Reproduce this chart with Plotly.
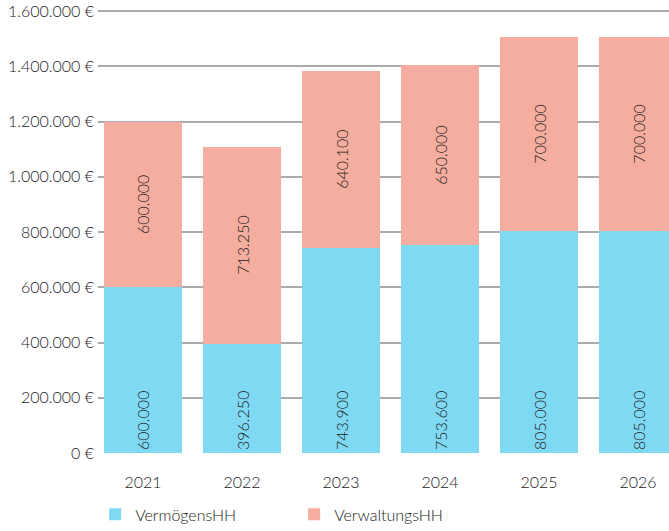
import plotly.graph_objects as go

years = ["2021", "2022", "2023", "2024", "2025", "2026"]
vermoegens = [600000, 396250, 743900, 753600, 805000, 805000]
verwaltungs = [600000, 713250, 640100, 650000, 700000, 700000]
y_ticks = [0, 200000, 400000, 600000, 800000, 1000000, 1200000, 1400000, 1600000]
y_tick_labels = ["0 €", "200.000 €", "400.000 €", "600.000 €", "800.000 €",
                 "1.000.000 €", "1.200.000 €", "1.400.000 €", "1.600.000 €"]

FONT = "Lato"
TXT = "#1a1a1a"
f16 = dict(family=FONT, size=16, color=TXT, weight=300)

fig = go.Figure()
fig.add_trace(go.Bar(
    x=years, y=vermoegens, name="VermögensHH",
    marker=dict(color="#80d9f3", line=dict(width=0)),
    texttemplate="%{y:,.0f}", textposition="inside", textangle=-90,
    insidetextanchor="start",
    insidetextfont=f16,
))
fig.add_trace(go.Bar(
    x=years, y=verwaltungs, name="VerwaltungsHH",
    marker=dict(color="#f5ad9f", line=dict(width=0)),
    texttemplate="%{y:,.0f}", textposition="inside", textangle=-90,
    insidetextanchor="middle",
    insidetextfont=f16,
))

fig.update_layout(
    width=669, height=531,
    barmode="stack", bargap=0.212,
    separators=",.",
    plot_bgcolor="white", paper_bgcolor="white",
    margin=dict(l=98, r=0, t=9, b=78, autoexpand=False),
    font=f16,
    legend=dict(
        orientation="h", x=-0.005, xanchor="left", y=-0.100, yanchor="top",
        entrywidth=154, entrywidthmode="pixels",
        font=f16,
        traceorder="normal",
    ),
    xaxis=dict(
        range=[-0.4545, 5.313], showgrid=False, zeroline=False, showline=False,
        ticks="", ticklabelstandoff=18, automargin=False,
        tickfont=f16,
    ),
    yaxis=dict(
        range=[0, 1607240], tickvals=y_ticks, ticktext=y_tick_labels,
        showgrid=True, gridcolor="rgba(0,0,0,0.33)", gridwidth=1.5,
        zeroline=False, showline=False, ticks="", layer="above traces",
        automargin=False, ticklabelstandoff=3, ticklabeloverflow="allow",
        tickfont=f16,
    ),
)

fig.write_html("out.html", config={"displayModeBar": False},
               post_script="document.body.style.margin='0px';")
